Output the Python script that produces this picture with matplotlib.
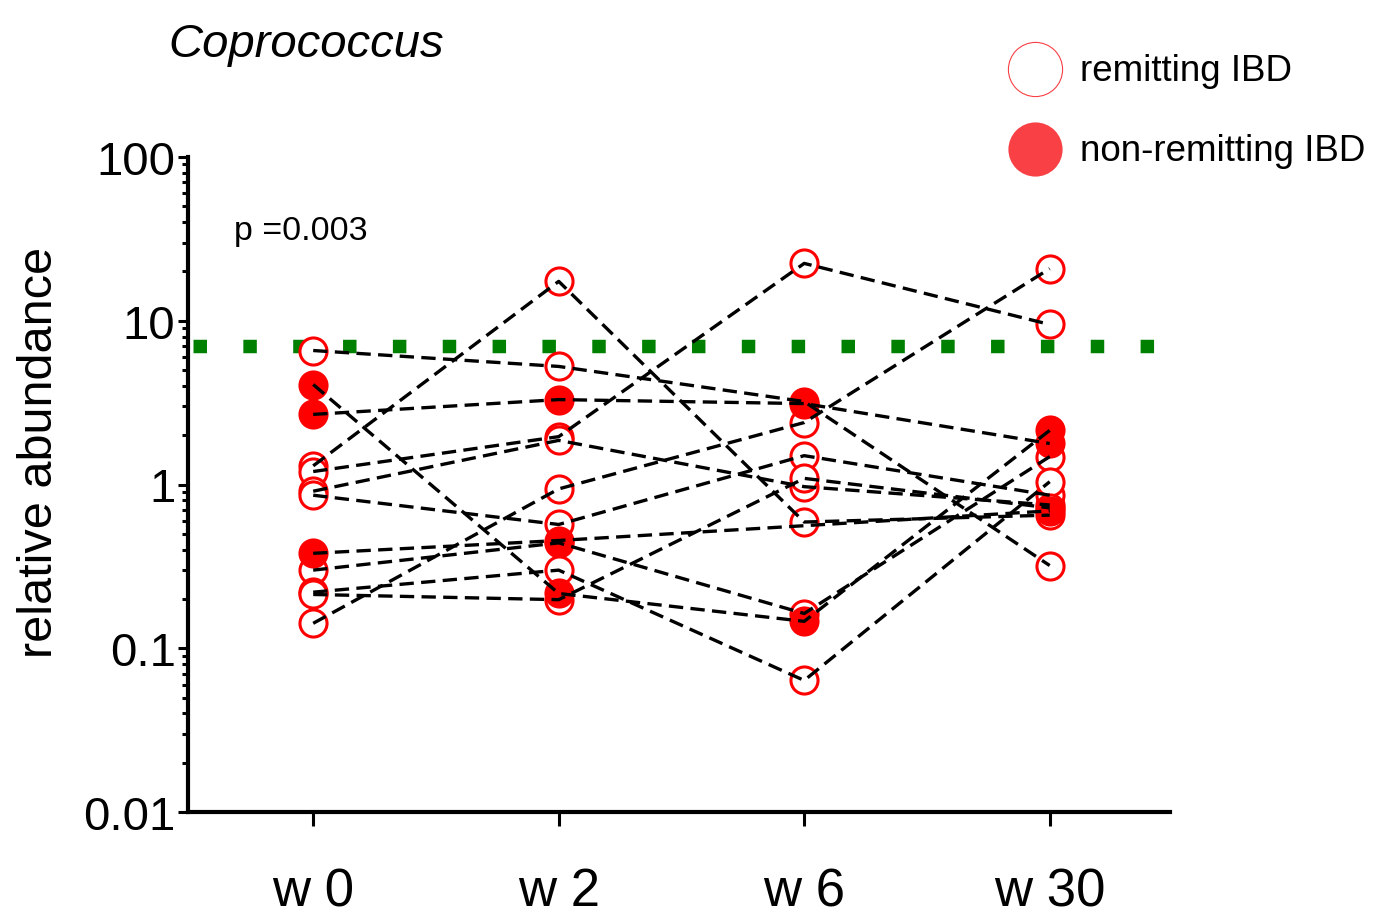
import numpy as np
import matplotlib
matplotlib.use('Agg')
import matplotlib.pyplot as plt
from matplotlib.lines import Line2D
from matplotlib.ticker import LogLocator, NullFormatter

plt.rcParams['font.family'] = ['Liberation Sans', 'DejaVu Sans']

weeks = ['w 0', 'w 2', 'w 6', 'w 30']

# relative abundance per subject at each visit (nan = no sample)
w0 = [6.58, 4.08, 2.68, 1.30, 1.20, 0.91, 0.86, 0.38, 0.30, 0.22, 0.213, 0.142]
w2 = [5.26, 0.216, 3.30, 17.4, 1.96, 1.86, 0.57, 0.455, 0.44, 0.30, 0.198, 0.94]
w6 = [3.21, 0.146, 3.12, 0.59, 22.4, 0.97, 1.50, np.nan, 0.163, 0.0636, 1.09, 2.39]
w30 = [0.32, 2.14, 1.78, 0.65, 9.49, 0.75, 0.86, 0.69, 1.48, 1.04, 0.72, 20.8]
non_remitting = [False, True, True, False, False, False, False, True, False, False, False, False]

threshold = 7.0
p_text = 'p =0.003'

red = '#ff0000'

fig = plt.figure(figsize=(13.77, 9.2), dpi=100)
ax = fig.add_axes([188 / 1377, 1 - 813 / 920, 982 / 1377, 655 / 920])

vals = np.array([w0, w2, w6, w30]).T
x = np.arange(len(weeks))

ax.axhline(threshold, xmin=0.005, xmax=0.985, color='#008000', lw=9.7,
           linestyle=(0, (1.0, 2.7)), dash_capstyle='butt', zorder=1)

for row, nr in zip(vals, non_remitting):
    ok = ~np.isnan(row)
    ax.plot(x[ok], row[ok], color='black', lw=2.4, linestyle=(0, (4.3, 2.2)),
            zorder=5)
    if nr:
        ax.plot(x[ok], row[ok], 'o', ls='none', ms=19.5, mfc=red, mec=red,
                mew=2.2, zorder=4)
    else:
        ax.plot(x[ok], row[ok], 'o', ls='none', ms=19.5, mfc='white', mec=red,
                mew=2.2, zorder=3)

ax.set_yscale('log')
ax.set_ylim(0.01, 100)
ax.set_xlim(-0.51, 3.49)
ax.set_yticks([0.01, 0.1, 1, 10, 100])
ax.set_yticklabels(['0.01', '0.1', '1', '10', '100'])
ax.yaxis.set_minor_locator(LogLocator(base=10, subs=np.arange(2, 10), numticks=20))
ax.yaxis.set_minor_formatter(NullFormatter())

ax.set_xticks(x)
ax.set_xticklabels(weeks, fontsize=38)

for s in ['top', 'right']:
    ax.spines[s].set_visible(False)
for s in ['left', 'bottom']:
    ax.spines[s].set_linewidth(3)

ax.tick_params(axis='y', which='major', direction='out', length=7, width=2.2,
               labelsize=34, pad=2)
ax.tick_params(axis='y', which='minor', direction='out', length=4.5, width=2.2)
ax.tick_params(axis='x', which='major', direction='out', length=10, width=2.2,
               pad=29)

fig.text(40 / 1377, 1 - 452 / 920, 'relative abundance', rotation=90,
         fontsize=35, ha='center', va='center')
fig.text(168 / 1377, 1 - 57 / 920, 'Coprococcus', style='italic', fontsize=34,
         va='baseline')
fig.text(234 / 1377, 1 - 240 / 920, p_text, fontsize=24.5, va='baseline')

# legend drawn in figure coordinates
legend_rows = [('remitting IBD', 'white', 0.8), ('non-remitting IBD', '#f84045', 0)]
for i, (label, face, edge_w) in enumerate(legend_rows):
    yc = 1 - (70 + 80 * i) / 920
    fig.add_artist(Line2D([1035 / 1377], [yc], transform=fig.transFigure,
                          marker='o', ms=39, mfc=face, mec='#f84045', mew=edge_w,
                          ls='none'))
    fig.text(1080 / 1377, yc - 0.002, label, fontsize=26.5, va='center')

fig.savefig('out.png', dpi=100)
